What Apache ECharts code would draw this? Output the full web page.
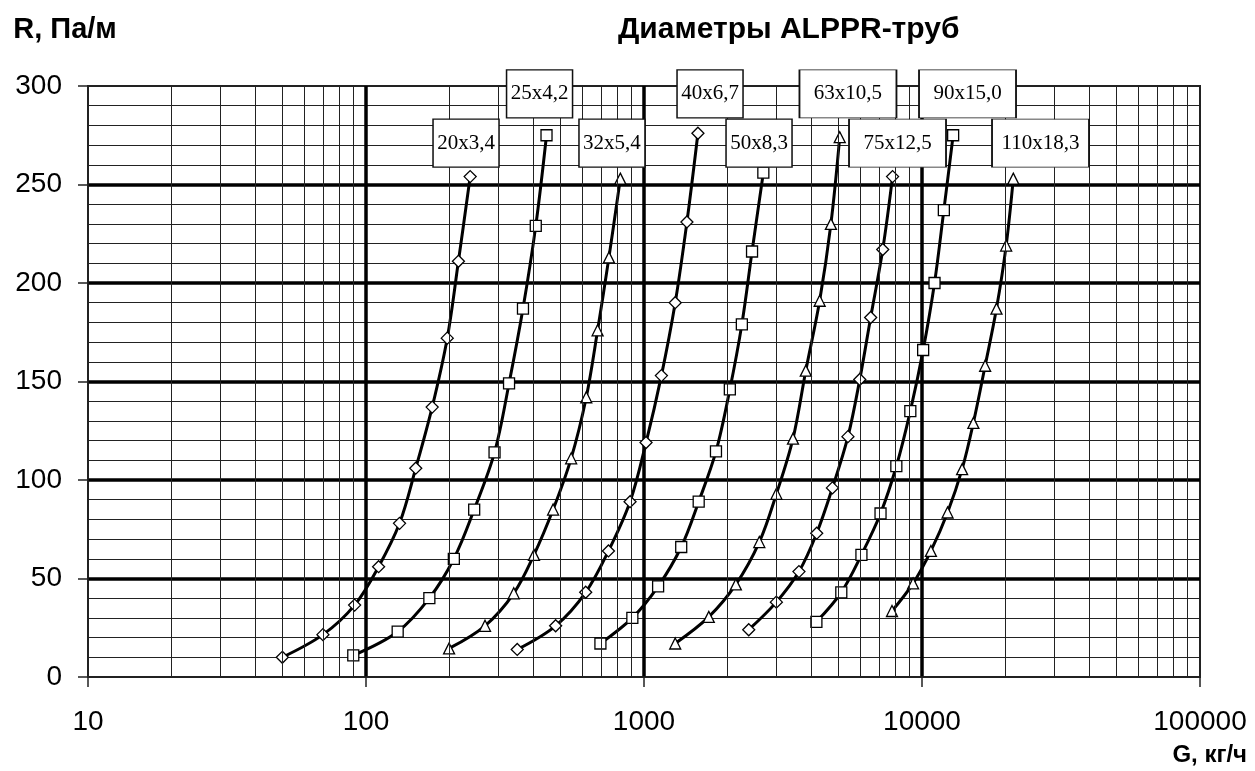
<!DOCTYPE html>
<html>
<head>
<meta charset="utf-8">
<script src="https://cdn.jsdelivr.net/npm/echarts@6/dist/echarts.min.js"></script>
<style>
html,body{margin:0;padding:0;background:#fff;}
#chart{width:1255px;height:771px;}
</style>
</head>
<body>
<div id="chart"></div>
<script>
// ---- data ----
const categories = ['20x3,4','25x4,2','32x5,4','40x6,7','50x8,3','63x10,5','75x12,5','90x15,0','110x18,3'];
const symbols = ['diamond','rect','triangle','diamond','rect','triangle','diamond','rect','triangle'];

const g20  = [50, 70, 91, 111, 132, 151, 173, 196, 215, 237];
const r20  = [10, 21.5, 36.5, 56, 78, 106, 137, 172, 211, 254];
const g25  = [90, 130, 169, 207, 245, 290, 327, 367, 408, 446];
const r25  = [11, 23, 40, 60, 85, 114, 149, 187, 229, 275];
const g32  = [199, 268, 340, 402, 471, 547, 620, 681, 748, 822];
const r32  = [14.5, 26, 42.5, 62, 85, 111, 142, 176, 213, 253];
const g40  = [350, 481, 617, 745, 891, 1017, 1155, 1295, 1427, 1563];
const r40  = [14, 26, 43, 64, 89, 119, 153, 190, 231, 276];
const g50  = [697, 908, 1124, 1361, 1573, 1815, 2036, 2249, 2447, 2687];
const r50  = [17, 30, 46, 66, 89, 114.5, 146, 179, 216, 256];
const g63  = [1295, 1710, 2140, 2599, 2995, 3435, 3819, 4284, 4703, 5059];
const r63  = [17, 30.5, 47, 68.5, 93, 121, 155.5, 191, 230, 274];
const g75  = [2381, 2993, 3609, 4181, 4762, 5415, 5972, 6536, 7224, 7837];
const r75  = [24, 38, 53.5, 73, 96, 122, 151, 182.5, 217, 254];
const g90  = [4170, 5125, 6055, 7093, 8085, 9078, 10096, 11093, 11984, 12943];
const r90  = [28, 43, 62, 83, 107, 135, 166, 200, 237, 275];
const g110 = [7800, 9289, 10767, 12359, 13940, 15304, 16871, 18531, 20077, 21300];
const r110 = [33.5, 47.5, 64, 83.5, 105.5, 129, 158, 187, 219, 253];

// label box anchors (data coordinates)
const labelG = [229, 421, 767, 1728, 2593, 5416, 8165, 14580, 26690];
const labelR = [271, 296, 271, 296, 271, 296, 271, 296, 271];

const xTicks = [10, 100, 1000, 10000, 100000];

const gArr = [g20, g25, g32, g40, g50, g63, g75, g90, g110];
const rArr = [r20, r25, r32, r40, r50, r63, r75, r90, r110];

// minor vertical grid positions (2..9 within each decade)
const minorG = [];
for (let d = 10; d < 100000; d *= 10) {
  for (let k = 2; k <= 9; k++) minorG.push(k * d);
}

const sansFont = 'Liberation Sans, Arial, sans-serif';
const serifFont = 'Liberation Serif, Times New Roman, serif';

const series = [{
  type: 'line',
  data: [],
  silent: true,
  z: 1,
  markLine: {
    silent: true,
    animation: false,
    symbol: ['none', 'none'],
    label: { show: false },
    lineStyle: { color: '#222', width: 1, type: 'solid' },
    emphasis: { disabled: true },
    data: minorG.map(v => ({ xAxis: v }))
  }
}];

categories.forEach((name, i) => {
  series.push({
    name: name,
    type: 'line',
    z: 3,
    smooth: 0.35,
    symbol: symbols[i],
    symbolSize: symbols[i] === 'diamond' ? 12 : 11,
    showSymbol: true,
    lineStyle: { color: '#000', width: 3 },
    itemStyle: { color: '#fff', borderColor: '#000', borderWidth: 1.3 },
    emphasis: { disabled: true },
    data: gArr[i].map((g, j) => [g, rArr[i][j]]),
    markPoint: {
      animation: false,
      silent: true,
      symbol: 'rect',
      symbolSize: [name.length > 6 ? 97 : 66, 48],
      itemStyle: { color: '#fff', borderColor: '#111', borderWidth: 1.3 },
      label: {
        show: true,
        position: 'inside',
        formatter: () => name,
        color: '#000',
        fontFamily: serifFont,
        fontSize: 21
      },
      data: [{ coord: [labelG[i], labelR[i]], value: name }]
    }
  });
});

const chart = echarts.init(document.getElementById('chart'));
chart.setOption({
  animation: false,
  backgroundColor: '#fff',
  title: {
    text: 'Диаметры ALPPR-труб',
    left: 618,
    top: 15,
    padding: 0,
    textStyle: { fontFamily: sansFont, fontWeight: 'bold', fontSize: 30, color: '#000' }
  },
  grid: {
    left: 88, right: 55, top: 86, bottom: 94,
    show: true, borderColor: '#222', borderWidth: 2, backgroundColor: 'transparent'
  },
  xAxis: {
    type: 'log',
    logBase: 10,
    min: 10,
    max: 100000,
    name: 'G, кг/ч',
    nameLocation: 'end',
    nameGap: 47,
    nameTextStyle: {
      fontFamily: sansFont, fontWeight: 'bold', fontSize: 24, color: '#000',
      align: 'right', verticalAlign: 'top', padding: [66, 0, 0, 0]
    },
    axisLine: { show: true, onZero: false, lineStyle: { color: '#222', width: 1.5 } },
    axisTick: { show: true, inside: false, length: 10, lineStyle: { color: '#222', width: 1.5 } },
    axisLabel: {
      margin: 31,
      fontFamily: sansFont, fontSize: 28, color: '#000',
      formatter: v => {
        const r = Math.round(v);
        return xTicks.indexOf(r) >= 0 ? String(r) : '';
      }
    },
    splitLine: {
      show: true, showMinLine: false, showMaxLine: false,
      lineStyle: { color: '#000', width: 3.5 }
    },
    minorTick: { show: false },
    minorSplitLine: { show: false }
  },
  yAxis: {
    type: 'value',
    min: 0,
    max: 300,
    interval: 50,
    name: 'R, Па/м',
    nameLocation: 'end',
    nameGap: 42,
    nameTextStyle: {
      fontFamily: sansFont, fontWeight: 'bold', fontSize: 29, color: '#000',
      align: 'center', verticalAlign: 'bottom', padding: [0, 46, 0, 0]
    },
    axisLine: { show: true, lineStyle: { color: '#222', width: 1.5 } },
    axisTick: { show: true, inside: false, length: 10, lineStyle: { color: '#222', width: 1.5 } },
    axisLabel: { margin: 26, fontFamily: sansFont, fontSize: 28, color: '#000' },
    splitLine: {
      show: true, showMinLine: false, showMaxLine: false,
      lineStyle: { color: '#000', width: 3.5 }
    },
    minorTick: { show: false, splitNumber: 5 },
    minorSplitLine: { show: true, lineStyle: { color: '#222', width: 1 } }
  },
  series: series
});
</script>
</body>
</html>
